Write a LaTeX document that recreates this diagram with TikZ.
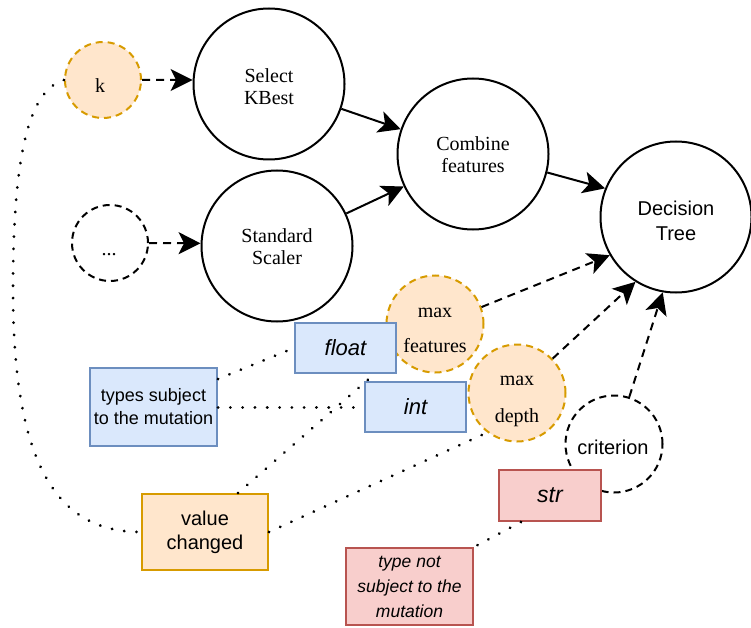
\documentclass[tikz,border=0pt]{standalone}
\usepackage{fontspec}
\setmainfont{Liberation Serif}
\newfontfamily\sansf{Liberation Sans}
\usetikzlibrary{arrows.meta}
\definecolor{orF}{HTML}{FFE6CC}
\definecolor{orS}{HTML}{D79B00}
\definecolor{blF}{HTML}{DAE8FC}
\definecolor{blS}{HTML}{6C8EBF}
\definecolor{rdF}{HTML}{F8CECC}
\definecolor{rdS}{HTML}{B85450}
\begin{document}
\begin{tikzpicture}[x=1pt,y=-1pt,
  bigc/.style={circle,draw=black,line width=2pt,minimum size=151pt,inner sep=0pt},
  dsh/.style={dash pattern=on 7pt off 5pt},
  smallc/.style={circle,line width=2pt,minimum size=76pt,inner sep=0pt,dsh},
  medc/.style={circle,line width=2pt,minimum size=97pt,inner sep=0pt,dsh},
  orc/.style={draw=orS,fill=orF},
  serift/.style={align=center,inner sep=0pt,font={\fontsize{20}{22}\selectfont}},
  sanst/.style={align=center,inner sep=0pt,font={\sansf\fontsize{20}{25.7}\selectfont}},
  box/.style={rectangle,line width=2pt,inner sep=0pt,align=center},
  bluebox/.style={box,draw=blS,fill=blF},
  redbox/.style={box,draw=rdS,fill=rdF},
  orbox/.style={box,draw=orS,fill=orF},
  arr/.style={-{Stealth[length=22pt,width=22pt,inset=5.5pt]},line width=2pt},
  darr/.style={arr,dash pattern=on 8pt off 6pt},
  dotl/.style={line width=3pt,line cap=round,dash pattern=on 0.1pt off 12.2pt}
]
\useasboundingbox (0,0) rectangle (751,628);

% circles
\node[smallc,orc] (k) at (103,80) {};
\node[serift] (kt) at (100,86) {k};
\node[bigc] (sk) at (269,84) {};
\node[serift] (skt) at (269,87) {Select\\KBest};
\node[smallc,draw=black] (dd) at (110,243) {};
\node[serift] (ddt) at (109,255) {...};
\node[bigc] (ss) at (277,246) {};
\node[serift] (sst) at (277,247) {Standard\\Scaler};
\node[bigc] (cf) at (473,154) {};
\node[serift] (cft) at (473,155) {Combine\\features};
\node[bigc] (dt) at (676,217) {};
\node[sanst] (dtt) at (676,221) {Decision\\Tree};
\node[medc,orc] (mf) at (435,324) {};
\node[serift,font={\fontsize{20}{35}\selectfont}] (mft) at (435,330) {max\\features};
\node[medc,orc] (md) at (517,393) {};
\node[serift,font={\fontsize{20}{37}\selectfont}] (mdt) at (517,401) {max\\depth};
\node[medc,draw=black] (cr) at (614,444) {};
\node[sanst] (crt) at (613,447) {criterion};

% boxes
\node[bluebox,minimum width=101pt,minimum height=50pt,font={\sansf\itshape\fontsize{22}{26}\selectfont}] (fl) at (345.5,348) {float};
\node[bluebox,minimum width=101pt,minimum height=50pt,font={\sansf\itshape\fontsize{22}{26}\selectfont}] (in) at (415.5,407) {int};
\node[bluebox,minimum width=127pt,minimum height=78pt,font={\sansf\fontsize{18}{23}\selectfont}] (ts) at (153.5,407) {types subject\\to the mutation};
\node[orbox,minimum width=126pt,minimum height=76pt,font={\sansf\fontsize{20}{24}\selectfont}] (vc) at (205,532) {value\\changed};
\node[redbox,minimum width=102pt,minimum height=51pt,font={\sansf\itshape\fontsize{23}{27}\selectfont}] (st) at (550,495.5) {str};
\node[redbox,minimum width=127pt,minimum height=77pt,font={\sansf\itshape\fontsize{17.5}{25}\selectfont}] (tn) at (409.5,586.5) {type not\\subject to the\\mutation};

% solid arrows
\draw[arr] (sk) -- (cf);
\draw[arr] (ss) -- (cf);
\draw[arr] (cf.346) -- (dt.158);

% dashed arrows
\draw[darr] (k.east) -- (sk.177);
\draw[darr] (dd.east) -- (ss.178);
\draw[darr] (mf.20) -- (dt.210);
\draw[darr] (md.44) -- (dt.238);
\draw[darr] (cr.72) -- (dt.260);

% dotted connectors
\draw[dotl] (k.west) .. controls (30,90) and (13,150) .. (13,290)
                     .. controls (13,470) and (60,532) .. (vc.west);
\draw[dotl] ([xshift=33pt]vc.north) -- ([xshift=29pt]fl.south);
\draw[dotl] (vc.east) -- (md.233);
\draw[dotl] ([yshift=-12pt]ts.north east) -- (fl.west);
\draw[dotl] (ts.east) -- (in.west);
\draw[dotl] ([xshift=-29pt]st.south) -- (tn.north east);
\end{tikzpicture}
\end{document}
